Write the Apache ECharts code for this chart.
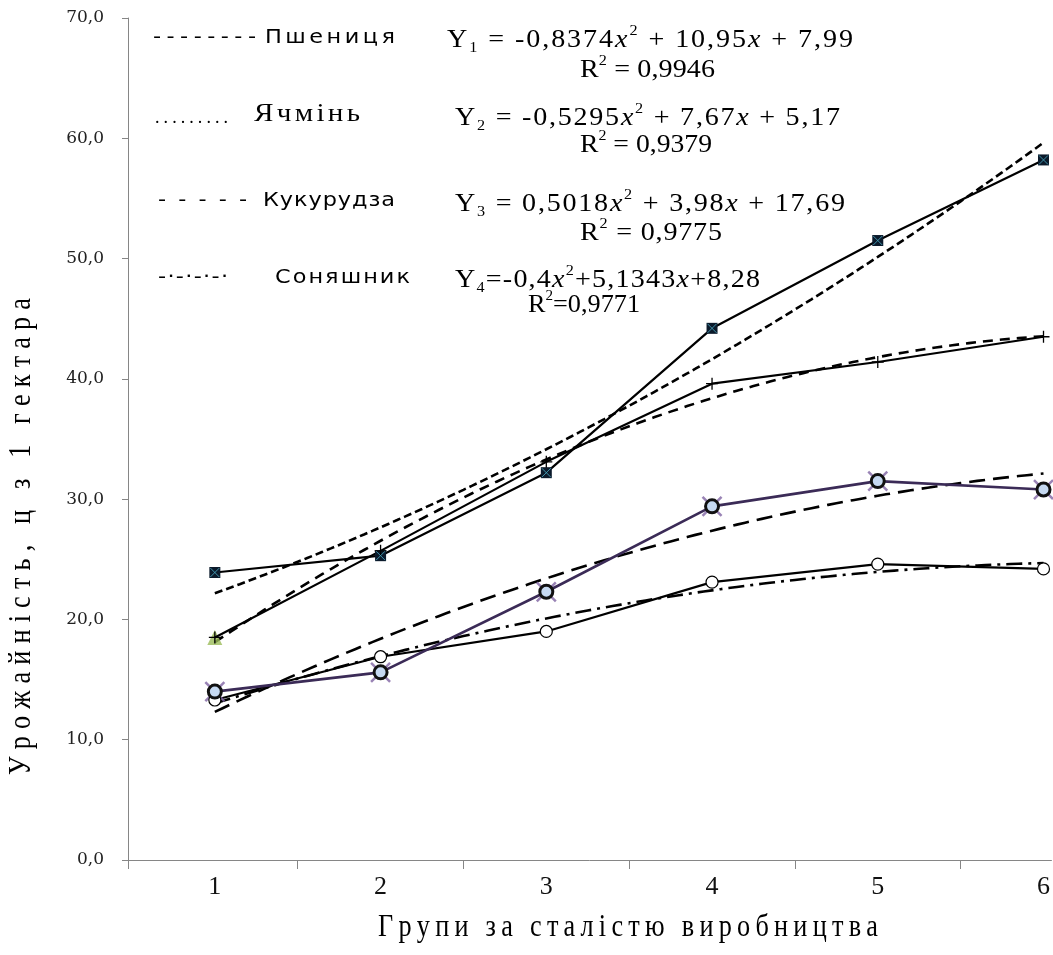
<!DOCTYPE html>
<html>
<head>
<meta charset="utf-8">
<script src="https://cdn.jsdelivr.net/npm/echarts@6/dist/echarts.min.js"></script>
<style>
  html, body { margin: 0; padding: 0; background: #fff; }
  #chart { width: 1053px; height: 955px; }
</style>
</head>
<body>
<div id="chart"></div>
<script>
// Groups by production stability (x) and yields, c/ha (y)
const groups = [1, 2, 3, 4, 5, 6];
const wheat = [18.5, 25.7, 33.1, 39.6, 41.4, 43.5];      // Пшениця
const barley = [14.0, 15.6, 22.3, 29.4, 31.5, 30.8];     // Ячмінь
const corn = [23.9, 25.3, 32.2, 44.2, 51.5, 58.2];       // Кукурудза
const sunflower = [13.3, 16.9, 19.0, 23.1, 24.6, 24.2];  // Соняшник

// Quadratic trend coefficients [a, b, c] for y = a*x^2 + b*x + c, and R²
const wheatFit = [-0.8374, 10.95, 7.99];
const barleyFit = [-0.5295, 7.67, 5.17];
const cornFit = [0.5018, 3.98, 17.69];
const sunflowerFit = [-0.4, 5.1343, 8.28];
const wheatR2 = 0.9946;
const barleyR2 = 0.9379;
const cornR2 = 0.9775;
const sunflowerR2 = 0.9771;

const yTicks = [0, 10, 20, 30, 40, 50, 60, 70];
const cropNames = ['Пшениця', 'Ячмінь', 'Кукурудза', 'Соняшник'];
const xTitle = 'Групи за сталістю виробництва';
const yTitle = 'Урожайність, ц з 1 гектара';

const pairs = arr => groups.map((g, i) => [g, arr[i]]);
// trend curve drawn from the stated regression equation
function trendPoints(fit) {
  const pts = [];
  for (let k = 0; k <= 100; k++) {
    const x = 1 + k * 0.05;
    pts.push([x, fit[0] * x * x + fit[1] * x + fit[2]]);
  }
  return pts;
}
const dec = v => String(v).replace('.', ',');

// ---- text helpers: spread a string over a given span (letter-spaced) ----
const mctx = document.createElement('canvas').getContext('2d');
function fontOf(s) {
  return (s.fontStyle || 'normal') + ' normal ' + s.fontSize + 'px "' + s.fontFamily + '"';
}
function spaced(tokens, rich, left, right, cy, opts) {
  opts = opts || {};
  let gs = opts.glyphScale || 1;
  const chars = [];
  tokens.forEach(([t, k]) => { for (const ch of t) chars.push([ch, k]); });
  let w = 0;
  chars.forEach(([ch, k]) => { mctx.font = fontOf(rich[k]); w += mctx.measureText(ch).width; });
  const span = right - left;
  let pad = (span / gs - w) / Math.max(1, chars.length - 1);
  if (pad < 0) { pad = 0; gs = span / w; }
  const r = {};
  Object.keys(rich).forEach(k => { r[k] = Object.assign({}, rich[k], { padding: [0, pad, 0, 0] }); });
  const text = chars.map(([ch, k]) => '{' + k + '|' + ch + '}').join('');
  return {
    type: 'text', silent: true,
    x: opts.x != null ? opts.x : left, y: opts.y != null ? opts.y : cy,
    rotation: opts.rotation || 0,
    scaleX: gs, scaleY: 1,
    style: {
      text: text, rich: r, fill: '#000',
      align: 'left', verticalAlign: 'middle',
      textAlign: 'left', textVerticalAlign: 'middle'
    }
  };
}

const eqRich = {
  n: { fontFamily: 'Liberation Serif', fontSize: 26, lineHeight: 32, color: '#000' },
  i: { fontFamily: 'Liberation Serif', fontStyle: 'italic', fontSize: 26, lineHeight: 32, color: '#000' },
  b: { fontFamily: 'Liberation Serif', fontSize: 15, lineHeight: 15, verticalAlign: 'bottom', color: '#000' },
  t: { fontFamily: 'Liberation Serif', fontSize: 15, lineHeight: 15, verticalAlign: 'top', color: '#000' }
};
const sansRich = { s: { fontFamily: 'DejaVu Sans', fontSize: 20, lineHeight: 26, color: '#000' } };
const dotRich = { s: { fontFamily: 'Liberation Serif', fontSize: 18, lineHeight: 22, color: '#000' } };
const serifRich = { s: { fontFamily: 'Liberation Serif', fontSize: 26, lineHeight: 30, color: '#000' } };
const titleRich = { s: { fontFamily: 'Liberation Serif', fontSize: 32, lineHeight: 36, color: '#000' } };

function sgn(v, first, sp) {
  if (first) return dec(v);
  return v < 0 ? sp + '-' + sp + dec(-v) : sp + '+' + sp + dec(v);
}
function eqTokens(idx, fit, spacedOut) {
  const sp = spacedOut ? ' ' : '';
  return [
    ['Y', 'n'], [String(idx), 'b'], [sp + '=' + sp + sgn(fit[0], true, sp), 'n'],
    ['x', 'i'], ['2', 't'], [sgn(fit[1], false, sp), 'n'], ['x', 'i'],
    [sgn(fit[2], false, sp), 'n']
  ];
}
function r2Tokens(r2, spacedOut) {
  const sp = spacedOut ? ' ' : '';
  return [['R', 'n'], ['2', 't'], [sp + '=' + sp + dec(r2), 'n']];
}

const eqScale = { glyphScale: 1.08 };
const keyScale = { glyphScale: 1.12 };
const graphics = [
  // crop key with line-style marks
  spaced([['--------', 's']], sansRich, 153, 256, 38, keyScale),
  spaced([[cropNames[0], 's']], sansRich, 265, 395, 38, keyScale),
  spaced([['.........', 's']], dotRich, 155, 228, 118),
  spaced([[cropNames[1], 's']], serifRich, 254, 360, 114, keyScale),
  spaced([['- - - - -', 's']], sansRich, 158, 247, 201, keyScale),
  spaced([[cropNames[2], 's']], sansRich, 263, 395, 201, keyScale),
  spaced([['-·-·-·-·', 's']], sansRich, 158, 228, 278, keyScale),
  spaced([[cropNames[3], 's']], sansRich, 275, 410, 278, keyScale),
  // regression equations
  spaced(eqTokens(1, wheatFit, true), eqRich, 447, 853, 40, eqScale),
  spaced(r2Tokens(wheatR2, true), eqRich, 580, 715, 70, eqScale),
  spaced(eqTokens(2, barleyFit, true), eqRich, 455, 840, 118, eqScale),
  spaced(r2Tokens(barleyR2, true), eqRich, 580, 712, 145, eqScale),
  spaced(eqTokens(3, cornFit, true), eqRich, 455, 845, 204, eqScale),
  spaced(r2Tokens(cornR2, true), eqRich, 580, 722, 233, eqScale),
  spaced(eqTokens(4, sunflowerFit, false), eqRich, 455, 760, 280, eqScale),
  spaced(r2Tokens(sunflowerR2, false), eqRich, 528, 640, 305, eqScale),
  // axis titles
  spaced([[xTitle, 's']], titleRich, 378, 878, 928, { glyphScale: 0.82 }),
  spaced([[yTitle, 's']], titleRich, 298, 775, 0, { glyphScale: 0.82, x: 22, y: 775, rotation: Math.PI / 2 })
];

const crossPath = 'path://M0,0L10,10M10,0L0,10';
const plusPath = 'path://M5,0L5,10M0,5L10,5';

const chart = echarts.init(document.getElementById('chart'), null, { renderer: 'canvas' });
chart.setOption({
  animation: false,
  backgroundColor: '#fff',
  grid: { left: 128, top: 18, right: 0, bottom: 95 },
  xAxis: {
    type: 'value', min: 0.476, max: 6.048,
    axisLine: { show: true, lineStyle: { color: '#868686', width: 1 } },
    axisTick: { show: true, length: 9, lineStyle: { color: '#868686' },
      customValues: [0.476, 1.5, 2.5, 3.5, 4.5, 5.5] },
    axisLabel: { customValues: groups, margin: 14, color: '#111',
      fontFamily: 'Liberation Serif', fontSize: 26 },
    splitLine: { show: false }
  },
  yAxis: {
    type: 'value', min: yTicks[0], max: yTicks[yTicks.length - 1], interval: 10,
    axisLine: { show: true, lineStyle: { color: '#868686', width: 1 } },
    axisTick: { show: true, length: 6, lineStyle: { color: '#868686' } },
    axisLabel: { margin: 24, color: '#222', fontFamily: 'DejaVu Serif', fontSize: 17,
      formatter: v => v.toFixed(1).replace('.', ',') },
    splitLine: { show: false }
  },
  graphic: graphics,
  series: [
    // trend curves
    { type: 'line', data: trendPoints(cornFit), showSymbol: false, silent: true, z: 2,
      lineStyle: { color: '#000', width: 2.6, type: [8, 4] } },
    { type: 'line', data: trendPoints(wheatFit), showSymbol: false, silent: true, z: 2,
      lineStyle: { color: '#000', width: 2.6, type: [10, 7] } },
    { type: 'line', data: trendPoints(barleyFit), showSymbol: false, silent: true, z: 2,
      lineStyle: { color: '#000', width: 2.6, type: [16, 8] } },
    { type: 'line', data: trendPoints(sunflowerFit), showSymbol: false, silent: true, z: 2,
      lineStyle: { color: '#000', width: 2.6, type: [16, 6, 3, 6] } },

    // corn: dark squares with cyan crosses
    { type: 'line', data: pairs(corn), symbol: 'rect', symbolSize: 11, silent: true, z: 4,
      lineStyle: { color: '#000', width: 2.2 },
      itemStyle: { color: '#0b1a2b', borderColor: '#0b1a2b', borderWidth: 0 } },
    { type: 'scatter', data: pairs(corn), symbol: crossPath, symbolSize: 9, silent: true, z: 5,
      itemStyle: { color: 'rgba(0,0,0,0)', borderColor: '#4bacc6', borderWidth: 1 } },

    // wheat: plus marks, green triangle on the first group
    { type: 'scatter', data: [[groups[0], wheat[0]]], symbol: 'triangle', symbolSize: 15,
      silent: true, z: 3, itemStyle: { color: '#9bbb59' } },
    { type: 'line', data: pairs(wheat), symbol: plusPath, symbolSize: 12, silent: true, z: 4,
      lineStyle: { color: '#000', width: 2.2 },
      itemStyle: { color: 'rgba(0,0,0,0)', borderColor: '#000', borderWidth: 1.3 } },

    // barley: purple cross under light-blue ringed circles
    { type: 'scatter', data: pairs(barley), symbol: crossPath, symbolSize: 19, silent: true, z: 4,
      itemStyle: { color: 'rgba(0,0,0,0)', borderColor: '#8064a2', borderWidth: 2.5 } },
    { type: 'line', data: pairs(barley), symbol: 'circle', symbolSize: 13, silent: true, z: 5,
      lineStyle: { color: '#3b2b57', width: 2.6 },
      itemStyle: { color: '#c6d9f1', borderColor: '#111', borderWidth: 3 } },

    // sunflower: open circles
    { type: 'line', data: pairs(sunflower), symbol: 'circle', symbolSize: 12, silent: true, z: 4,
      lineStyle: { color: '#000', width: 2.2 },
      itemStyle: { color: '#fff', borderColor: '#000', borderWidth: 1.2 } }
  ]
});
</script>
</body>
</html>
